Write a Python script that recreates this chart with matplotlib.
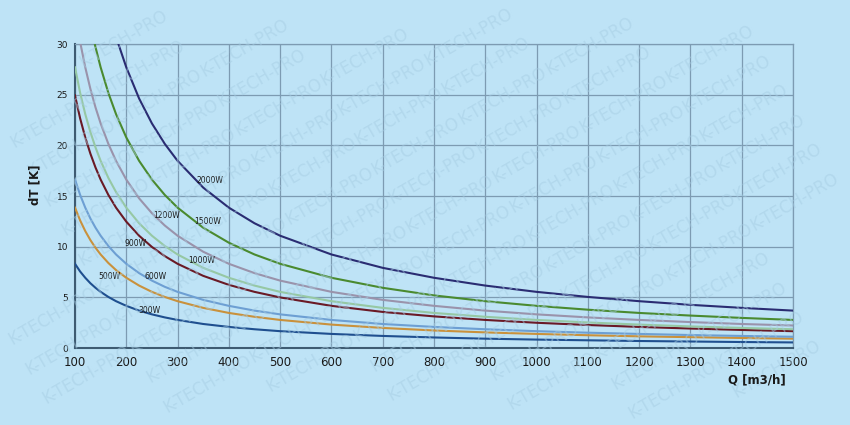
import numpy as np
import matplotlib
matplotlib.use('Agg')
import matplotlib.pyplot as plt

# values (Q in m3/h, dT in K)
q_full = [100, 110, 120, 130, 140, 150, 165, 180, 200, 225, 250, 275, 300, 350,
          400, 450, 500, 600, 700, 800, 900, 1000, 1100, 1200, 1300, 1400, 1500]
dt_300 = [8.31, 7.55, 6.93, 6.39, 5.94, 5.54, 5.04, 4.62, 4.16, 3.69, 3.32, 3.02, 2.77, 2.37,
          2.08, 1.85, 1.66, 1.39, 1.19, 1.04, 0.92, 0.83, 0.76, 0.69, 0.64, 0.59, 0.55]
dt_500 = [13.85, 12.59, 11.54, 10.65, 9.89, 9.23, 8.39, 7.69, 6.93, 6.16, 5.54, 5.04, 4.62, 3.96,
          3.46, 3.08, 2.77, 2.31, 1.98, 1.73, 1.54, 1.39, 1.26, 1.15, 1.07, 0.99, 0.92]
dt_600 = [16.62, 15.11, 13.85, 12.78, 11.87, 11.08, 10.07, 9.23, 8.31, 7.39, 6.65, 6.04, 5.54, 4.75,
          4.16, 3.69, 3.32, 2.77, 2.37, 2.08, 1.85, 1.66, 1.51, 1.39, 1.28, 1.19, 1.11]
dt_900 = [24.93, 22.66, 20.78, 19.18, 17.81, 16.62, 15.11, 13.85, 12.47, 11.08, 9.97, 9.07, 8.31, 7.12,
          6.23, 5.54, 4.99, 4.16, 3.56, 3.12, 2.77, 2.49, 2.27, 2.08, 1.92, 1.78, 1.66]
dt_1000 = [27.70, 25.18, 23.08, 21.31, 19.79, 18.47, 16.79, 15.39, 13.85, 12.31, 11.08, 10.07, 9.23, 7.91,
           6.93, 6.16, 5.54, 4.62, 3.96, 3.46, 3.08, 2.77, 2.52, 2.31, 2.13, 1.98, 1.85]

q_1200 = [111, 120, 130, 140, 150, 165, 180, 200, 225, 250, 275, 300, 350,
          400, 450, 500, 600, 700, 800, 900, 1000, 1100, 1200, 1300, 1400, 1500]
dt_1200 = [29.95, 27.70, 25.57, 23.74, 22.16, 20.15, 18.47, 16.62, 14.77, 13.30, 12.09, 11.08, 9.50,
           8.31, 7.39, 6.65, 5.54, 4.75, 4.16, 3.69, 3.32, 3.02, 2.77, 2.56, 2.37, 2.22]

q_1500 = [139, 150, 165, 180, 200, 225, 250, 275, 300, 350,
          400, 450, 500, 600, 700, 800, 900, 1000, 1100, 1200, 1300, 1400, 1500]
dt_1500 = [29.89, 27.70, 25.18, 23.08, 20.78, 18.47, 16.62, 15.11, 13.85, 11.87,
           10.39, 9.23, 8.31, 6.93, 5.94, 5.19, 4.62, 4.16, 3.78, 3.46, 3.20, 2.97, 2.77]

q_2000 = [185, 200, 225, 250, 275, 300, 350, 400, 450, 500, 600, 700, 800, 900,
          1000, 1100, 1200, 1300, 1400, 1500]
dt_2000 = [29.95, 27.70, 24.62, 22.16, 20.15, 18.47, 15.83, 13.85, 12.31, 11.08, 9.23, 7.91, 6.93, 6.16,
           5.54, 5.04, 4.62, 4.26, 3.96, 3.69]

labels = ['300W', '500W', '600W', '900W', '1000W', '1200W', '1500W', '2000W']
label_pos = [(246, 3.7), (167, 7.1), (257, 7.1), (219, 10.3), (346, 8.6), (279, 13.1), (359, 12.5), (364, 16.5)]

bg = '#bee3f6'
colors = ['#1f4f8f', '#c9913c', '#6d9fd3', '#6a1a26', '#96c8a4', '#9a93ab', '#4a8a2f', '#2a2c72']

fig = plt.figure(figsize=(8.5, 4.25), dpi=100, facecolor=bg)
fig.canvas.draw()
renderer = fig.canvas.get_renderer()

# watermark: single words on a rotated lattice, only those fully inside the figure
ang = np.deg2rad(30)
ux, uy = np.cos(ang), np.sin(ang)
for row in range(-20, 20):
    for col in range(-10, 20):
        px = col * 100 * ux - row * 34 * uy
        py = col * 100 * uy + row * 34 * ux
        t = fig.text(px / 850, py / 425, 'K-TECH-PRO', rotation=30, fontsize=12,
                     color='#a6cde3', alpha=0.5, ha='center', va='center',
                     rotation_mode='anchor', zorder=0)
        bb = t.get_window_extent(renderer)
        if bb.x0 < 0 or bb.y0 < 0 or bb.x1 > 850 or bb.y1 > 425:
            t.remove()

ax = fig.add_axes([75/850, 1 - 348/425, (793 - 75)/850, (348 - 44)/425])
ax.set_facecolor('none')

series = [(q_full, dt_300), (q_full, dt_500), (q_full, dt_600), (q_full, dt_900),
          (q_full, dt_1000), (q_1200, dt_1200), (q_1500, dt_1500), (q_2000, dt_2000)]
for (q, dt), c in zip(series, colors):
    ax.plot(q, dt, color=c, lw=1.5, zorder=3)

for lab, (x, y) in zip(labels, label_pos):
    ax.text(x, y, lab, fontsize=5.5, color='#1a1a1a', ha='center', va='center', zorder=4)

ax.set_xlim(100, 1500)
ax.set_ylim(0, 30)
ax.set_xticks(np.arange(100, 1501, 100))
ax.set_yticks(np.arange(0, 31, 5))
ax.grid(True, color='#7d9bb2', lw=0.9)
ax.set_axisbelow(True)
for s in ['top', 'right']:
    ax.spines[s].set_color('#7d9bb2')
    ax.spines[s].set_linewidth(0.9)
for s in ['left', 'bottom']:
    ax.spines[s].set_color('#3e5b72')
    ax.spines[s].set_linewidth(1.5)
ax.tick_params(length=0)
ax.tick_params(axis='x', labelsize=8.5, pad=6, labelcolor='#1a1a1a')
ax.tick_params(axis='y', labelsize=6.5, pad=5, labelcolor='#1a1a1a')

fig.text(35/850, 1 - 185/425, 'dT [K]', rotation=90, fontsize=8.5, fontweight='bold',
         ha='center', va='center', color='#1a1a1a')
fig.text(757/850, 1 - 380/425, 'Q [m3/h]', fontsize=8.5, fontweight='bold',
         ha='center', va='center', color='#1a1a1a')

fig.savefig('out.png', dpi=100, facecolor=bg)
